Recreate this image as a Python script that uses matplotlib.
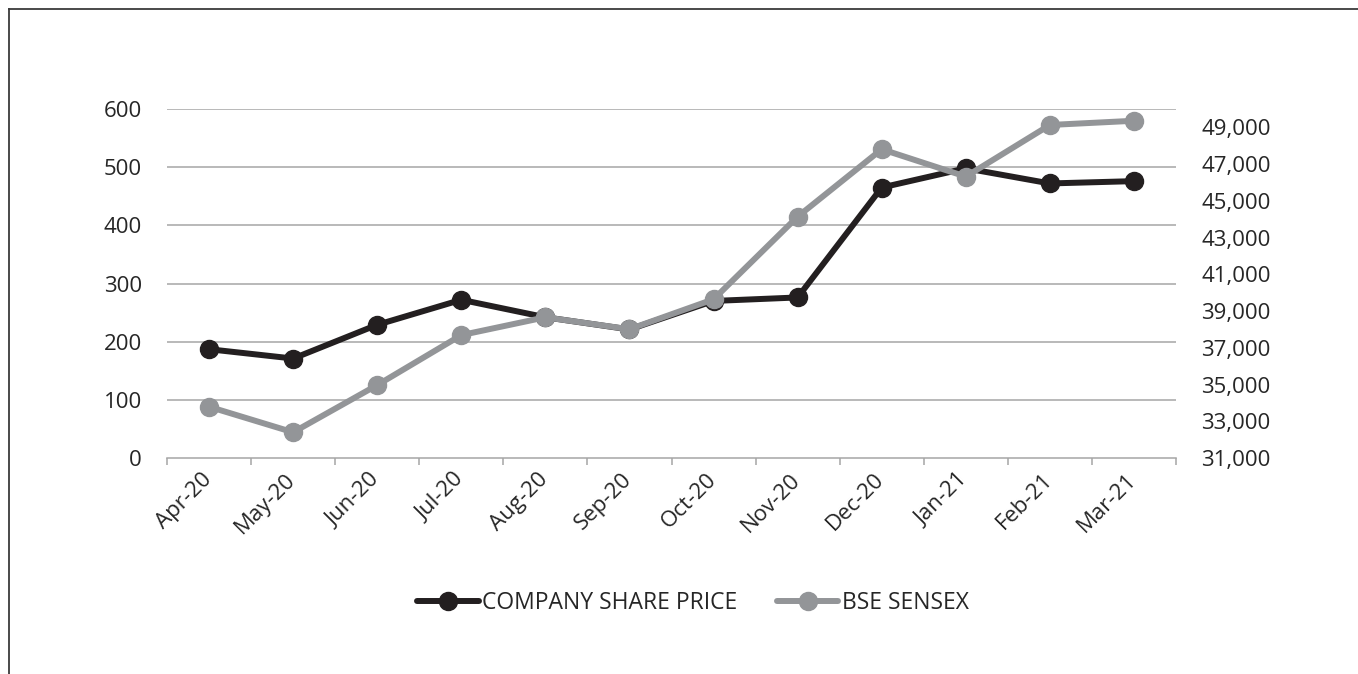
import matplotlib
matplotlib.use("Agg")
import matplotlib.pyplot as plt
import matplotlib.transforms as mtransforms
from matplotlib.ticker import FuncFormatter, FixedLocator
from matplotlib.lines import Line2D

months = ["Apr-20", "May-20", "Jun-20", "Jul-20", "Aug-20", "Sep-20",
          "Oct-20", "Nov-20", "Dec-20", "Jan-21", "Feb-21", "Mar-21"]
company_price = [187, 171, 229, 272, 242, 221, 270, 276, 465, 498, 472, 476]
bse_sensex = [33790, 32400, 34970, 37690, 38660, 38010, 39640, 44140,
              47810, 46320, 49130, 49360]
left_ticks = [0, 100, 200, 300, 400, 500, 600]
right_ticks = [31000, 33000, 35000, 37000, 39000, 41000, 43000, 45000, 47000, 49000]

black = "#231f20"
gray = "#939598"
text_color = "#262626"
grid_color = "#a6a6a6"

plt.rcParams['font.family'] = ['Open Sans', 'DejaVu Sans']

W, H = 1358, 674
fig = plt.figure(figsize=(W / 100, H / 100), dpi=100)
ax = fig.add_axes([167 / W, 1 - 458 / H, (1176 - 167) / W, (458 - 109) / H])
ax2 = ax.twinx()

LW, MS = 4.3, 13
x = list(range(len(months)))
ax.plot(x, company_price, color=black, lw=LW, marker='o', ms=MS,
        solid_capstyle='round', zorder=3)
ax2.plot(x, bse_sensex, color=gray, lw=LW, marker='o', ms=MS,
         solid_capstyle='round', zorder=3)

ax.set_xlim(-0.5, len(months) - 0.5)
ax.set_ylim(0, 600)
ax2.set_ylim(31000, 50000)

ax.set_yticks(left_ticks)
ax2.set_yticks(right_ticks)
ax2.yaxis.set_major_formatter(FuncFormatter(lambda v, p: f"{int(v):,}"))

for y in left_ticks[1:]:
    ax.axhline(y, color=grid_color, lw=1.1, zorder=1)

for a in (ax, ax2):
    for s in ("top", "left", "right", "bottom"):
        a.spines[s].set_visible(False)

ax.spines["bottom"].set_visible(True)
ax.spines["bottom"].set_color(grid_color)
ax.spines["bottom"].set_linewidth(1.1)

FS = 16
ax.set_xticks(x)
ax.set_xticklabels(months, rotation=45, ha='right', va='top',
                   rotation_mode='anchor', fontsize=FS, color=text_color)
ax.tick_params(axis='x', which='major', length=0, pad=8)
offset = mtransforms.ScaledTranslation(-0.08, 0, fig.dpi_scale_trans)
for lbl in ax.get_xticklabels():
    lbl.set_transform(lbl.get_transform() + offset)
ax.xaxis.set_minor_locator(FixedLocator([i - 0.5 for i in range(len(months) + 1)]))
ax.tick_params(axis='x', which='minor', length=5, color=grid_color, width=1.1)

ax.tick_params(axis='y', length=0, pad=18, labelsize=FS, labelcolor=text_color)
ax2.tick_params(axis='y', length=0, pad=18, labelsize=FS, labelcolor=text_color)

handles = [
    Line2D([], [], color=black, lw=LW, marker='o', ms=MS, solid_capstyle='round'),
    Line2D([], [], color=gray, lw=LW, marker='o', ms=MS, solid_capstyle='round'),
]
fig.legend(handles, ["COMPANY SHARE PRICE", "BSE SENSEX"],
           loc='center', bbox_to_anchor=(693 / W, 1 - 603 / H), ncol=2,
           frameon=False, fontsize=16.5, handlelength=2.7, handletextpad=0.15,
           columnspacing=1.7, labelcolor=text_color)

# outer border (top and left visible)
fig.add_artist(Line2D([9 / W, 1.0], [1 - 9 / H, 1 - 9 / H], transform=fig.transFigure,
                      color="#3a3a3a", lw=1.3))
fig.add_artist(Line2D([9 / W, 9 / W], [1 - 9 / H, 0.0], transform=fig.transFigure,
                      color="#3a3a3a", lw=1.3))

fig.savefig("out.png", dpi=100, facecolor="white")
